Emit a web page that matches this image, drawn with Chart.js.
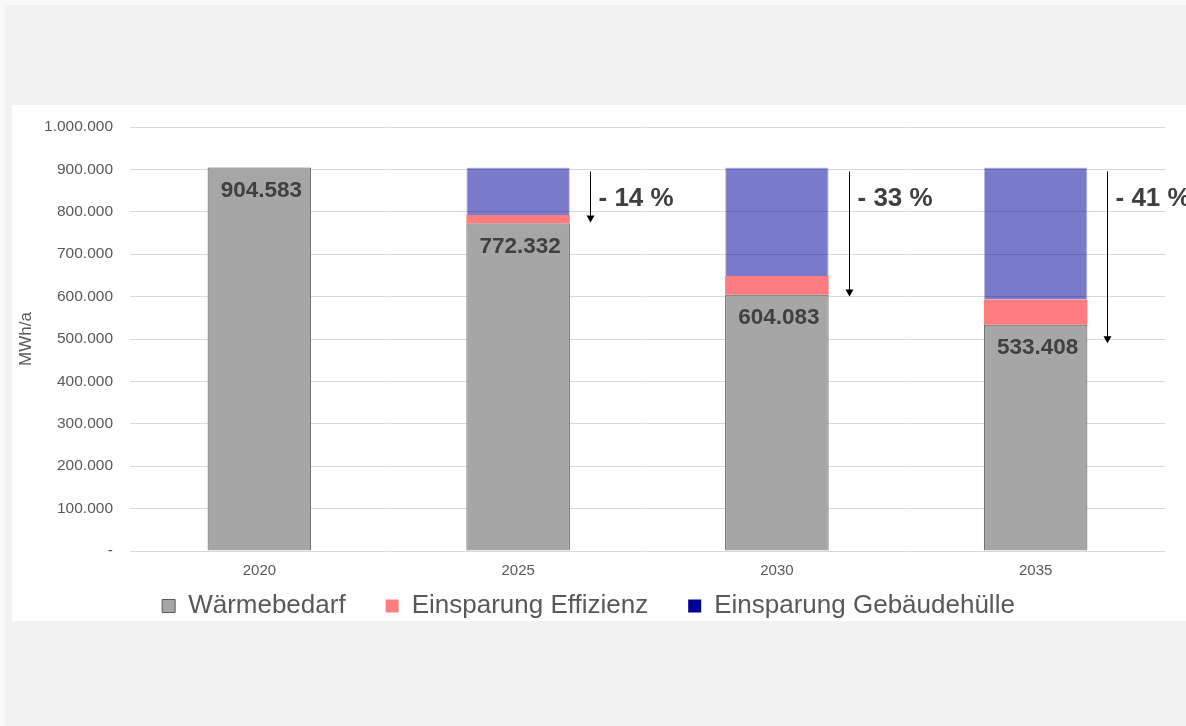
<!DOCTYPE html>
<html>
<head>
<meta charset="utf-8">
<script src="https://cdn.jsdelivr.net/npm/chart.js@4.4.0/dist/chart.umd.min.js"></script>
<style>
  body { margin: 0; background: #fafafa; }
  #frame { position: absolute; left: 5px; top: 5px; width: 1181px; height: 721px; background: #f2f2f2; }
  #myChart { position: absolute; left: 12px; top: 105px; background: #fff; }
</style>
</head>
<body>
<div id="frame"></div>
<canvas id="myChart" width="1174" height="516"></canvas>
<script>
const years = ["2020", "2025", "2030", "2035"];
const waermebedarf = [904583, 772332, 604083, 533408];
const einsparungEffizienz = [0, 20000, 44500, 60000];
const einsparungHuelle = [0, 112250, 256000, 311175];
// Pfeile und Prozentangaben
const savingLabels = [null, "- 14 %", "- 33 %", "- 41 %"];
const arrowEnd = [null, 775000, 600000, 490000];
const yTicks = [0, 100000, 200000, 300000, 400000, 500000, 600000, 700000, 800000, 900000, 1000000];

const fontFamily = "'Liberation Sans', Arial, sans-serif";
const textGrey = "#595959";
const xAxisHeight = 30;

function formatDE(v) {
  if (v === 0) return "-";
  return String(v).replace(/\B(?=(\d{3})+(?!\d))/g, ".");
}

// Legende reicht in den Bereich der x-Achse, damit die Abstände wie im Original passen
const legendShift = {
  id: "legendShift",
  afterLayout: (chart) => {
    chart.legend.top -= xAxisHeight - 2;
  },
};

const annotations = {
  id: "annotations",
  afterDatasetsDraw: (chart) => {
    const { ctx } = chart;
    const y = chart.scales.y;
    const grey = chart.getDatasetMeta(0);
    const top = chart.getDatasetMeta(2);
    ctx.save();
    // Wertbeschriftung im grauen Balken
    ctx.font = "bold 22.5px " + fontFamily;
    ctx.fillStyle = "#404040";
    ctx.textAlign = "center";
    ctx.textBaseline = "middle";
    grey.data.forEach((bar, i) => {
      ctx.fillText(formatDE(waermebedarf[i]), bar.x + 2, bar.y + 23);
    });
    // Pfeile
    ctx.strokeStyle = "#000";
    ctx.lineWidth = 1;
    top.data.forEach((bar, i) => {
      if (arrowEnd[i] == null) return;
      const ax = Math.round(bar.x + bar.width / 2 + 20) + 0.5;
      const y0 = bar.y + 4;
      const y1 = y.getPixelForValue(arrowEnd[i]);
      ctx.fillStyle = "#000";
      ctx.beginPath();
      ctx.moveTo(ax, y0);
      ctx.lineTo(ax, y1 - 6);
      ctx.stroke();
      ctx.beginPath();
      ctx.moveTo(ax - 4, y1 - 7);
      ctx.lineTo(ax + 4, y1 - 7);
      ctx.lineTo(ax, y1);
      ctx.closePath();
      ctx.fill();
      ctx.font = "bold 26px " + fontFamily;
      ctx.fillStyle = "#404040";
      ctx.textAlign = "left";
      ctx.fillText(savingLabels[i], ax + 8, bar.y + 31);
    });
    ctx.restore();
  },
};

new Chart(document.getElementById("myChart"), {
  type: "bar",
  data: {
    labels: years,
    datasets: [
      {
        label: "Wärmebedarf",
        data: waermebedarf,
        backgroundColor: "#a6a6a6",
        borderColor: "#595959",
        borderWidth: 1,
        legendColor: "#a6a6a6",
      },
      {
        label: "Einsparung Effizienz",
        data: einsparungEffizienz,
        backgroundColor: "#ff7c80",
        legendColor: "#ff7c80",
      },
      {
        label: "Einsparung Gebäudehülle",
        data: einsparungHuelle,
        backgroundColor: "rgba(0, 0, 153, 0.52)",
        borderColor: "rgba(0, 0, 153, 0.25)",
        borderWidth: 1,
        legendColor: "#000099",
      },
    ],
  },
  options: {
    responsive: false,
    animation: false,
    categoryPercentage: 1,
    barPercentage: 0.4,
    layout: { padding: { top: 22, right: 21, bottom: 0, left: 0 } },
    plugins: {
      tooltip: { enabled: false },
      legend: {
        position: "bottom",
        maxHeight: 70 - xAxisHeight,
        labels: {
          boxWidth: 13,
          boxHeight: 13,
          padding: 40,
          color: textGrey,
          font: { family: fontFamily, size: 26 },
          generateLabels: (chart) => {
            const items = Chart.defaults.plugins.legend.labels.generateLabels(chart);
            items.forEach((item) => {
              item.fillStyle = chart.data.datasets[item.datasetIndex].legendColor;
              item.strokeStyle = item.datasetIndex === 0 ? "#595959" : item.fillStyle;
              item.lineWidth = item.datasetIndex === 0 ? 1 : 0;
            });
            return items;
          },
        },
      },
    },
    scales: {
      x: {
        stacked: true,
        grid: { display: false, drawTicks: false },
        border: { display: false },
        ticks: { color: textGrey, padding: 11, font: { family: fontFamily, size: 15 } },
        afterFit: (s) => { s.height = xAxisHeight; },
      },
      y: {
        stacked: true,
        min: 0,
        max: 1000000,
        afterBuildTicks: (s) => { s.ticks = yTicks.map((v) => ({ value: v })); },
        grid: { color: "#d9d9d9", drawTicks: false },
        border: { display: false },
        ticks: {
          color: textGrey,
          padding: 17,
          font: { family: fontFamily, size: 15.5 },
          callback: (v) => formatDE(v),
        },
        title: {
          display: true,
          text: "MWh/a",
          color: textGrey,
          padding: { top: 4, bottom: 0 },
          font: { family: fontFamily, size: 17 },
        },
        afterFit: (s) => {
          s.width = 118;
          s.paddingTop = 0;
          s.paddingBottom = 0;
        },
      },
    },
  },
  plugins: [legendShift, annotations],
});
</script>
</body>
</html>
